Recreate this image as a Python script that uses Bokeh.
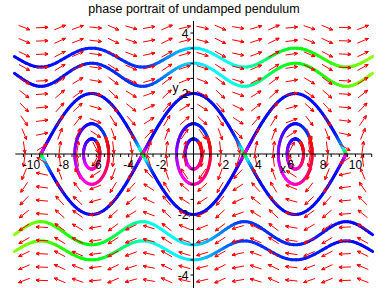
import math
import colorsys
import numpy as np
from bokeh.plotting import figure
from bokeh.models import Range1d
from bokeh.core.properties import value
from bokeh.embed import file_html
from bokeh.resources import INLINE

# ---------------- data ----------------
TITLE = "phase portrait of undamped pendulum"
X_LABEL = "x"
Y_LABEL = "y"
X_TICKS = [-10, -8, -6, -4, -2, 2, 4, 6, 8, 10]
Y_TICKS = [-4, -2, 2, 4]
X_VIEW = [-11.0, 11.0]
Y_VIEW = [-4.45, 4.4]

# centres of the closed orbits (multiples of pi)
CENTRES_PI = [-2, 0, 2]
# libration orbits: y at the centre
LIBRATION_Y0 = [0.5, 1.0]
# separatrix arcs: y at the centre
SEPARATRIX_Y0 = [2.0, -2.0]
# rotating solutions: y at x = 0
ROTATION_Y0 = [3.5, 3.0, -3.0, -3.5]

# direction field grid (columns, rows) and its extent
FIELD_NX = 20
FIELD_NY = 20
FIELD_X = [-11.0, 11.0]
FIELD_Y = [-4.4, 4.4]

# ---------------- page geometry ----------------
W, H = 388, 288
X0PX, SX = 193.0, 16.2      # pixel of x=0, pixels per unit
Y0PX, SY = 153.5, 30.25     # pixel of y=0, pixels per unit


def dx(px):
    return (px - X0PX) / SX


def dy(py):
    return (Y0PX - py) / SY


p = figure(width=W, height=H, output_backend="svg", toolbar_location=None,
           x_axis_location=None, y_axis_location=None, min_border=0,
           x_range=Range1d(dx(0), dx(W)), y_range=Range1d(dy(H), dy(0)))
p.outline_line_color = None
p.grid.visible = False
p.background_fill_color = "white"
p.border_fill_color = "white"


# ---------------- pendulum ODE ----------------
def rhs(x, y):
    return y, -math.sin(x)


def integrate(x, y, dt, nmax):
    xs, ys = [x], [y]
    for _ in range(nmax):
        k1x, k1y = rhs(x, y)
        k2x, k2y = rhs(x + 0.5 * dt * k1x, y + 0.5 * dt * k1y)
        k3x, k3y = rhs(x + 0.5 * dt * k2x, y + 0.5 * dt * k2y)
        k4x, k4y = rhs(x + dt * k3x, y + dt * k3y)
        x += dt / 6 * (k1x + 2 * k2x + 2 * k3x + k4x)
        y += dt / 6 * (k1y + 2 * k2y + 2 * k3y + k4y)
        xs.append(x)
        ys.append(y)
        if abs(x) > X_VIEW[1] + 0.05:
            break
    return np.array(xs), np.array(ys)


def hue_color(h):
    r, g, b = colorsys.hsv_to_rgb(h % 1.0, 1.0, 1.0)
    return "#%02x%02x%02x" % (int(r * 255), int(g * 255), int(b * 255))


seg_xs, seg_ys, seg_col = [], [], []


def add_colored(xs, ys, hues, chunk=8):
    n = len(xs)
    i = 0
    while i < n - 1:
        j = min(i + chunk, n - 1)
        seg_xs.append(list(xs[i:j + 1]))
        seg_ys.append(list(ys[i:j + 1]))
        seg_col.append(hue_color(float(np.mean(hues[i:j + 1]))))
        i = j


DT = 0.01
H0 = 0.66

# rotating (open) solutions: blue where they enter, lime where they leave
for y0 in ROTATION_Y0:
    fx, fy = integrate(0.0, y0, DT, 4000)
    bx, by = integrate(0.0, y0, -DT, 4000)
    xs = np.concatenate([bx[::-1], fx[1:]])
    ys = np.concatenate([by[::-1], fy[1:]])
    s = np.linspace(0.0, 1.0, len(xs))
    hues = np.interp(s, [0.0, 0.38, 0.5, 0.62, 0.75, 1.0],
                     [0.67, 0.63, 0.52, 0.48, 0.36, 0.24])
    add_colored(xs, ys, hues)

# separatrix arcs: blue in the middle, green going into a saddle,
# magenta coming out of one
T_SEP = 5.5
for c in CENTRES_PI:
    xc = c * math.pi
    for y0 in SEPARATRIX_Y0:
        n = int(T_SEP / DT)
        fx, fy = integrate(xc, y0, DT, n)
        tf = np.arange(len(fx)) * DT
        add_colored(fx, fy, H0 - 0.32 * np.clip((tf - 1.7) / 3.3, 0, 1))
        bx, by = integrate(xc, y0, -DT, n)
        tb = np.arange(len(bx)) * DT
        add_colored(bx, by, H0 + 0.22 * np.clip((tb - 1.7) / 3.3, 0, 1))

# librations: blue over the top, hue running backwards round the orbit
T_LIB = 5.7
for c in CENTRES_PI:
    xc = c * math.pi
    for y0 in LIBRATION_Y0:
        fx, fy = integrate(xc, y0, DT, 150)
        tf = np.arange(len(fx)) * DT
        add_colored(fx, fy, H0 - 0.03 * tf)
        bx, by = integrate(xc, y0, -DT, int(T_LIB / DT))
        tb = np.arange(len(bx)) * DT
        add_colored(bx, by, H0 + 0.062 * tb)

p.multi_line(xs=seg_xs, ys=seg_ys, line_color=seg_col, line_width=3,
             line_cap="round", line_join="round")

# ---------------- direction field arrows ----------------
L = 12.0     # arrow length in pixels
HL = 3.5     # head length in pixels
HA = math.radians(24)
ax, ay = [], []
for i in range(FIELD_NX):
    gx = FIELD_X[0] + (FIELD_X[1] - FIELD_X[0]) * (i + 0.5) / FIELD_NX
    for j in range(FIELD_NY):
        gy = FIELD_Y[0] + (FIELD_Y[1] - FIELD_Y[0]) * (j + 0.5) / FIELD_NY
        vx, vy = rhs(gx, gy)
        ux, uy = vx * SX, vy * SY
        nrm = math.hypot(ux, uy)
        if nrm < 1e-9:
            continue
        ux, uy = ux / nrm, uy / nrm
        tx, ty = -ux * L / 2, -uy * L / 2
        hx, hy = ux * L / 2, uy * L / 2
        pts = [(tx, ty), (hx, hy)]
        for sgn in (1, -1):
            ca, sa = math.cos(sgn * HA), math.sin(sgn * HA)
            rx = ux * ca - uy * sa
            ry = ux * sa + uy * ca
            pts.append((hx - rx * HL, hy - ry * HL))
            pts.append((hx, hy))
        ax.append([gx + q[0] / SX for q in pts])
        ay.append([gy + q[1] / SY for q in pts])
p.multi_line(xs=ax, ys=ay, line_color="#ff0000", line_width=1)

# ---------------- axes ----------------
p.segment(x0=[X_VIEW[0]], y0=[0], x1=[X_VIEW[1]], y1=[0], line_color="black", line_width=1)
p.segment(x0=[0], y0=[Y_VIEW[0]], x1=[0], y1=[Y_VIEW[1]], line_color="black", line_width=1)

xt = np.arange(-10.5, 11.01, 0.5)
xt = xt[np.abs(xt) > 1e-9]
p.segment(x0=xt, y0=np.zeros_like(xt), x1=xt, y1=np.full_like(xt, -3.0 / SY),
          line_color="black", line_width=1)
yt = np.arange(-4.0, 4.01, 0.5)
yt = yt[np.abs(yt) > 1e-9]
p.segment(x0=np.zeros_like(yt), y0=yt, x1=np.full_like(yt, -3.0 / SX), y1=yt,
          line_color="black", line_width=1)

FONT = value("Liberation Sans")
p.text(x=X_TICKS, y=[dy(164)] * len(X_TICKS), text=[str(v) for v in X_TICKS],
       text_font=FONT, text_font_size="12px", text_align="center",
       text_baseline="middle", text_color="black")
p.text(x=[dx(188)] * len(Y_TICKS), y=Y_TICKS, text=[str(v) for v in Y_TICKS],
       text_font=FONT, text_font_size="12px", text_align="right",
       text_baseline="middle", text_color="black")
p.text(x=[dx(175)], y=[dy(87)], text=[Y_LABEL], text_font=FONT,
       text_font_size="12px", text_align="center", text_baseline="middle")
p.text(x=[dx(282.5)], y=[dy(168)], text=[X_LABEL], text_font=FONT,
       text_font_size="12px", text_align="center", text_baseline="middle")
p.text(x=[dx(193.5)], y=[dy(8)], text=[TITLE], text_font=FONT,
       text_font_size="12.5px", text_align="center", text_baseline="middle")

open("out.html", "w").write(file_html(p, INLINE))
